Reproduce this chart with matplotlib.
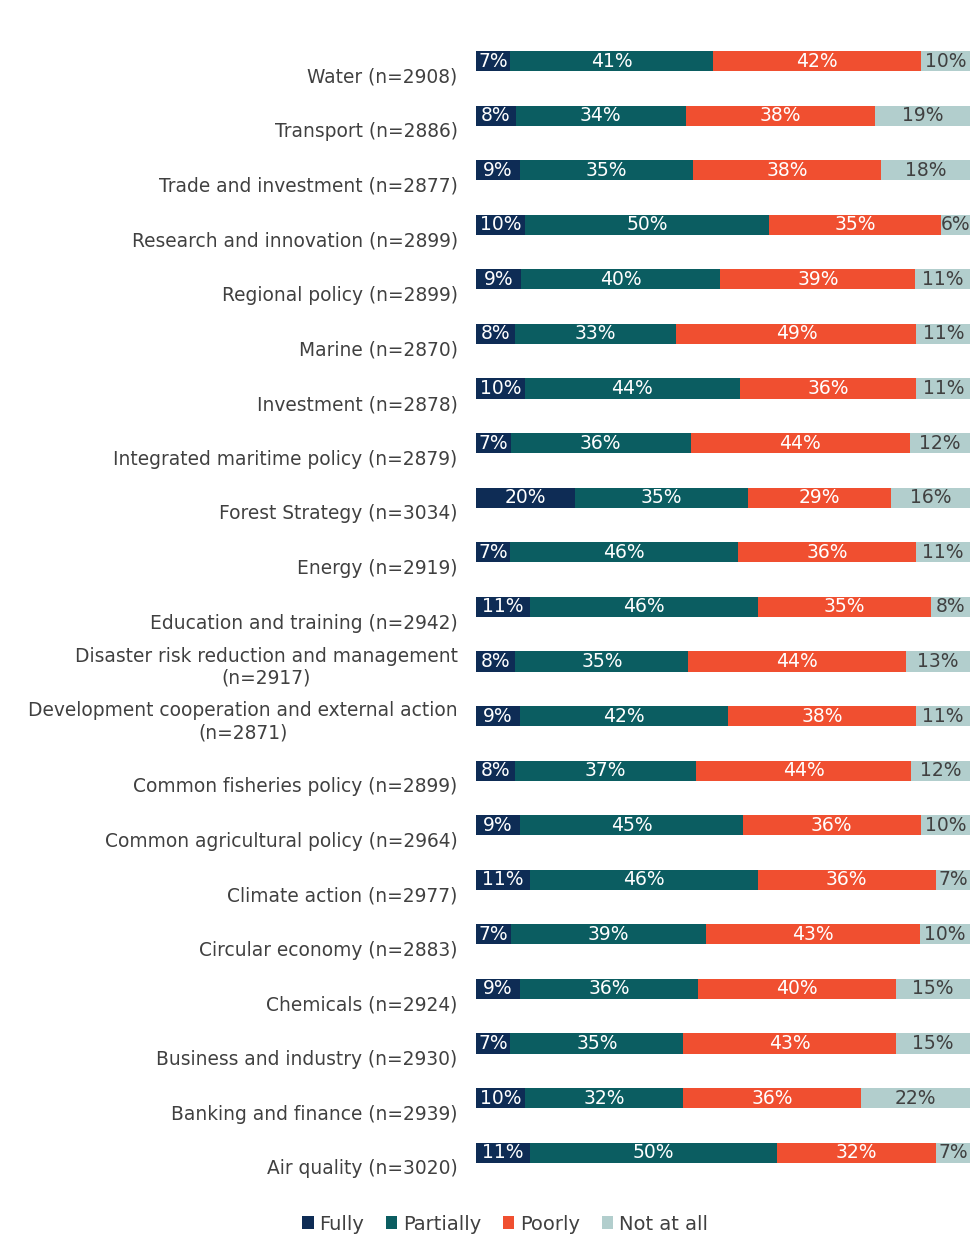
import numpy as np
import matplotlib.pyplot as plt

# Survey: how well is each policy area covered (share of respondents, %)
areas = [
    "Water (n=2908)",
    "Transport (n=2886)",
    "Trade and investment (n=2877)",
    "Research and innovation (n=2899)",
    "Regional policy (n=2899)",
    "Marine (n=2870)",
    "Investment (n=2878)",
    "Integrated maritime policy (n=2879)",
    "Forest Strategy (n=3034)",
    "Energy (n=2919)",
    "Education and training (n=2942)",
    "Disaster risk reduction and management\n(n=2917)",
    "Development cooperation and external action\n(n=2871)",
    "Common fisheries policy (n=2899)",
    "Common agricultural policy (n=2964)",
    "Climate action (n=2977)",
    "Circular economy (n=2883)",
    "Chemicals (n=2924)",
    "Business and industry (n=2930)",
    "Banking and finance (n=2939)",
    "Air quality (n=3020)",
]
fully = [7, 8, 9, 10, 9, 8, 10, 7, 20, 7, 11, 8, 9, 8, 9, 11, 7, 9, 7, 10, 11]
partially = [41, 34, 35, 50, 40, 33, 44, 36, 35, 46, 46, 35, 42, 37, 45, 46, 39, 36, 35, 32, 50]
poorly = [42, 38, 38, 35, 39, 49, 36, 44, 29, 36, 35, 44, 38, 44, 36, 36, 43, 40, 43, 36, 32]
not_at_all = [10, 19, 18, 6, 11, 11, 11, 12, 16, 11, 8, 13, 11, 12, 10, 7, 10, 15, 15, 22, 7]

series = [("Fully", fully, "#0e2c55", "white"),
          ("Partially", partially, "#0b5d61", "white"),
          ("Poorly", poorly, "#f04f30", "white"),
          ("Not at all", not_at_all, "#b2cecd", "#404040")]

fig = plt.figure(figsize=(9.79, 12.5), dpi=100)
ax = fig.add_axes([0.486, 0.056, 0.505, 0.917])

# 100% stacked: each row scaled to its own total
totals = np.sum([s[1] for s in series], axis=0).astype(float)
y = np.arange(len(areas))
left = np.zeros(len(areas))
for name, vals, col, tcol in series:
    vals = np.array(vals, dtype=float)
    widths = vals / totals * 100
    bars = ax.barh(y, widths, left=left, height=0.37, color=col, label=name)
    for b, v in zip(bars, vals):
        ax.text(b.get_x() + b.get_width() / 2, b.get_y() + b.get_height() / 2,
                f"{int(v)}%", ha="center", va="center", color=tcol, fontsize=13.5)
    left += widths

ax.set_xlim(0, 100)
ax.set_ylim(len(areas) - 0.5, -0.5)

# category labels sit a bit below the bars
label_pos = [i + (0.04 if "\n" in a else 0.26) for i, a in enumerate(areas)]
ax.set_yticks(label_pos)
ax.set_yticklabels(areas, fontsize=13.4, color="#404040", ha="right", multialignment="center")
ax.tick_params(axis="y", length=0, pad=13)
ax.set_xticks([])
for s in ax.spines.values():
    s.set_visible(False)

fig.legend(loc="center", bbox_to_anchor=(505 / 979, 1 - 1224 / 1250), ncol=4,
           frameon=False, fontsize=14, handlelength=0.6, handleheight=0.6,
           handletextpad=0.3, columnspacing=1.1, labelcolor="#404040")

fig.savefig("out.png", dpi=100)
